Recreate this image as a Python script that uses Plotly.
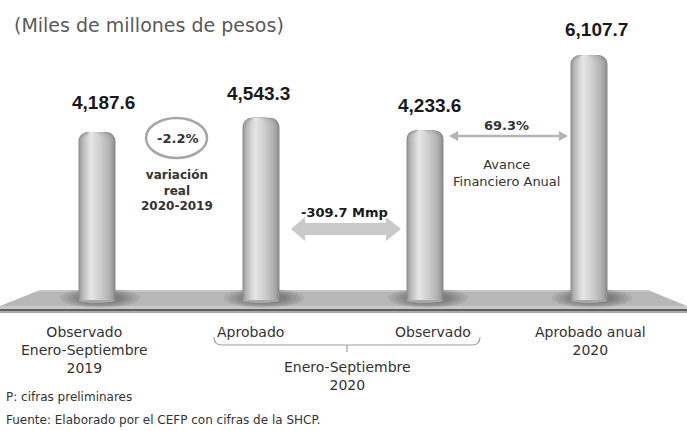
import plotly.graph_objects as go

# data
values = [4187.6, 4543.3, 4233.6, 6107.7]
value_text = [f"{v:,.1f}" for v in values]
cat_labels = ["Observado<br>Enero-Septiembre<br>2019", "Aprobado", "Observado", "Aprobado anual<br>2020"]
group_label = "Enero-Septiembre<br>2020"
var_real = "-2.2%"
var_real_note = "variación<br>real<br>2020-2019"
diff_label = "-309.7 Mmp"
avance_pct = "69.3%"
avance_note = "Avance<br>Financiero Anual"
title = "(Miles de millones de pesos)"
notes = ["P: cifras preliminares", "Fuente: Elaborado por el CEFP con cifras de la SHCP."]

W, H = 687, 431
X0, DX = 97, 164          # pixel of first bar centre, pixels per category
BASE, K = 300, 0.0401     # pixel of zero line, pixels per unit
BAR_W = 37 / DX

FONT = "DejaVu Sans"
BOLD = "Liberation Sans"


def px(x):
    return x / W


def py(y):
    return 1 - y / H


def path(points):
    return "M " + " L ".join(f"{px(a):.5f},{py(b):.5f}" for a, b in points) + " Z"


def text(x, y, t, size, family=FONT, color="#333333", xanchor="center", **kw):
    return dict(x=px(x), y=py(y), xref="paper", yref="paper", text=t, showarrow=False,
                xanchor=xanchor, yanchor="middle", font=dict(family=family, size=size, color=color), **kw)


xs = list(range(len(values)))
fig = go.Figure()

# cylinder shading: overlaid bars, narrower and lighter towards highlight
n_layers = 12
edge, hi = (140, 140, 140), (232, 232, 232)
h_off = -0.16 * BAR_W
for k in range(n_layers):
    f = 1 - k / n_layers
    t = (1 - f) ** 0.6
    c = tuple(int(e + (h - e) * t) for e, h in zip(edge, hi))
    w = f * BAR_W
    centre = (1 - f) * h_off
    fig.add_trace(go.Bar(
        x=xs, y=values, width=w, offset=centre - w / 2,
        marker=dict(color=f"rgb{c}", line=dict(width=0), cornerradius=int(min(9, f * 37 / 2))),
        hoverinfo="skip", showlegend=False,
    ))

shapes = []
# floor
shapes.append(dict(type="path", path=path([(40, 290), (648, 290), (687, 306), (0, 306)]),
                   fillcolor="#b7b7b7", line=dict(width=0), layer="below"))
shapes.append(dict(type="path", path=path([(40, 290), (648, 290), (652, 292), (36, 292)]),
                   fillcolor="#c6c6c6", line=dict(width=0), layer="below"))
shapes.append(dict(type="rect", x0=0, x1=1, y0=py(309), y1=py(306),
                   fillcolor="#c8c8c8", line=dict(width=0), layer="below"))
shapes.append(dict(type="rect", x0=0, x1=1, y0=py(311.5), y1=py(309),
                   fillcolor="#5e5e5e", line=dict(width=0), layer="below"))
shapes.append(dict(type="rect", x0=0, x1=1, y0=py(313), y1=py(311.5),
                   fillcolor="#a8a8a8", line=dict(width=0), layer="below"))
# soft shadows and cylinder bottoms
for i in xs:
    cx = X0 + DX * i + 3
    for rx, ry in [(40, 10), (36, 9), (32, 8), (28, 7), (25, 6), (22, 5)]:
        shapes.append(dict(type="circle",
                           x0=px(cx - rx), x1=px(cx + rx), y0=py(BASE + ry - 2), y1=py(BASE - ry - 2),
                           fillcolor="rgba(60,60,60,0.09)", line=dict(width=0), layer="below"))
    shapes.append(dict(type="circle",
                       x0=px(cx - 3 - 18.5), x1=px(cx - 3 + 18.5), y0=py(BASE + 3), y1=py(BASE - 3),
                       fillcolor="#a8a8a8", line=dict(width=0), layer="below"))

# circle around variation
shapes.append(dict(type="circle", x0=px(146), x1=px(207), y0=py(158), y1=py(118),
                   fillcolor="rgba(0,0,0,0)", line=dict(color="#a6a6a6", width=2.5)))

# thick double arrow
ay, sh, hh = 229, 6, 12
shapes.append(dict(type="path", path=path([
    (291, ay), (305, ay - hh), (305, ay - sh), (386, ay - sh), (386, ay - hh), (401, ay),
    (386, ay + hh), (386, ay + sh), (305, ay + sh), (305, ay + hh)]),
    fillcolor="#c9c9c9", line=dict(width=0)))

# thin double arrow
ty = 136
shapes.append(dict(type="line", x0=px(455), x1=px(562), y0=py(ty), y1=py(ty),
                   line=dict(color="#b3b3b3", width=2.5)))
shapes.append(dict(type="path", path=path([(449, ty), (458, ty - 5), (458, ty + 5)]),
                   fillcolor="#b3b3b3", line=dict(width=0)))
shapes.append(dict(type="path", path=path([(568, ty), (559, ty - 5), (559, ty + 5)]),
                   fillcolor="#b3b3b3", line=dict(width=0)))

# bracket under the two Enero-Septiembre 2020 categories
shapes.append(dict(type="path",
                   path=f"M {px(214)},{py(337)} Q {px(214)},{py(345)} {px(222)},{py(345)} "
                        f"L {px(472)},{py(345)} Q {px(480)},{py(345)} {px(480)},{py(337)}",
                   line=dict(color="#a0a0a0", width=1.2)))
shapes.append(dict(type="line", x0=px(347), x1=px(347), y0=py(345), y1=py(352),
                   line=dict(color="#a0a0a0", width=1.2)))

for s in shapes:
    s.setdefault("xref", "paper")
    s.setdefault("yref", "paper")

ann = []
label_shift = [(6, 17), (-3, 12), (4, 12), (7, 13)]
for i, (v, t) in enumerate(zip(values, value_text)):
    ann.append(dict(x=i, y=v, xref="x", yref="y", text=t, showarrow=False,
                    xanchor="center", yanchor="bottom",
                    xshift=label_shift[i][0], yshift=label_shift[i][1],
                    font=dict(family=BOLD, size=19, color="#1a1a1a", weight="bold")))

cat_pos = [(84, 331), (250, 331), (433, 331), (590, 331)]
for (cx, cy), t in zip(cat_pos, cat_labels):
    ann.append(dict(x=px(cx), y=py(cy - 9), xref="paper", yref="paper", text=t, showarrow=False,
                    xanchor="center", yanchor="top", font=dict(family=FONT, size=14, color="#333333")))
ann.append(dict(x=px(347), y=py(357), xref="paper", yref="paper", text=group_label, showarrow=False,
                xanchor="center", yanchor="top", font=dict(family=FONT, size=14, color="#333333")))

ann.append(text(12, 25, title, 19, color="#595959", xanchor="left"))
for t, y in zip(notes, [397, 420]):
    ann.append(text(4, y, t, 12, xanchor="left"))

ann.append(text(177, 138, f"<b>{var_real}</b>", 13))
ann.append(text(177, 190, f"<b>{var_real_note}</b>", 12))
ann.append(text(345, 212, f"<b>{diff_label}</b>", 13, color="#1a1a1a"))
ann.append(text(506, 125, f"<b>{avance_pct}</b>", 13))
ann.append(text(506, 173, avance_note, 13))

fig.update_layout(
    width=W, height=H,
    margin=dict(l=0, r=0, t=0, b=0),
    barmode="overlay",
    xaxis=dict(range=[-X0 / DX, (W - X0) / DX], visible=False, fixedrange=True),
    yaxis=dict(range=[-(H - BASE) / K, BASE / K], visible=False, fixedrange=True),
    shapes=shapes,
    annotations=ann,
    paper_bgcolor="white",
    plot_bgcolor="rgba(0,0,0,0)",
    showlegend=False,
    hovermode=False,
)

fig.write_html("out.html", config={"displayModeBar": False},
               post_script="document.body.style.margin='0';")
